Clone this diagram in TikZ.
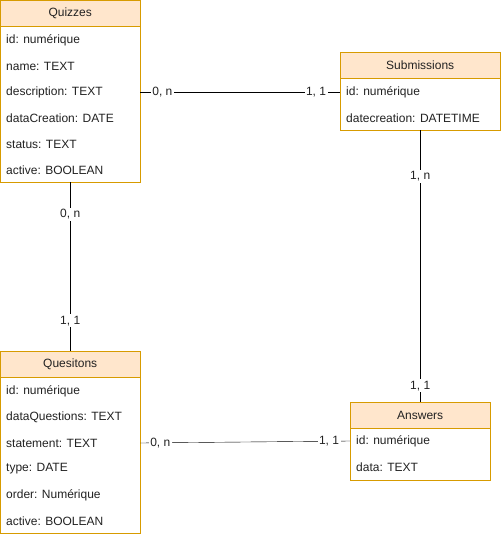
\documentclass[tikz,border=0pt]{standalone}
\usepackage{fontspec}
\setmainfont{Liberation Sans}
\definecolor{tabline}{HTML}{D79B00}
\definecolor{tabhead}{HTML}{FFE6CC}
\definecolor{txt}{HTML}{222222}

\begin{document}
\begin{tikzpicture}[x=1pt,y=-1pt,font=\fontsize{12}{14}\selectfont,text=txt]
	\useasboundingbox (0,0) rectangle (501,537);
	\tikzset{Head/.style = {draw=tabline, fill=tabhead, anchor=north west, minimum height=26pt, inner sep=0pt},
	Body/.style = {draw=tabline, fill=white, anchor=north west, inner sep=0pt},
	Row/.style = {anchor=west, inner sep=0pt},
	Card/.style = {fill=white, inner sep=1.5pt}}
	% Quizzes
	\node[Body, minimum width=140pt, minimum height=156pt] (quizB) at (0,26) {};
	\node[Head, minimum width=140pt] (quiz) at (0,0) {Quizzes};
	\foreach \t [count=\i] in {id: numérique, name: TEXT, description: TEXT, dataCreation: DATE, status: TEXT, active: BOOLEAN}
		\node[Row] (quiz\i) at (6,14+26*\i) {\t};
	% Submissions
	\node[Body, minimum width=160pt, minimum height=52pt] (subB) at (340,78) {};
	\node[Head, minimum width=160pt] (sub) at (340,52) {Submissions};
	\foreach \t [count=\i] in {id: numérique, datecreation: DATETIME}
		\node[Row] (sub\i) at (346,66+26*\i) {\t};
	% Quesitons
	\node[Body, minimum width=140pt, minimum height=156pt] (quesB) at (0,377) {};
	\node[Head, minimum width=140pt] (ques) at (0,351) {Quesitons};
	\foreach \t [count=\i] in {id: numérique, dataQuestions: TEXT, statement: TEXT, type: DATE, order: Numérique, active: BOOLEAN}
		\node[Row] (ques\i) at (6,365+26*\i) {\t};
	% Answers
	\node[Body, minimum width=140pt, minimum height=52pt] (ansB) at (350,428) {};
	\node[Head, minimum width=140pt] (ans) at (350,402) {Answers};
	\foreach \t [count=\i] in {id: numérique, data: TEXT}
		\node[Row] (ans\i) at (356,415+26*\i) {\t};
	% links
	\coordinate (qs) at (quizB.east |- quiz3);
	\coordinate (sq) at (subB.west |- quiz3);
	\coordinate (qa) at (quesB.east |- ques3);
	\coordinate (aq) at (ansB.west |- ans1);
	\draw (qs) -- node[Card, pos=0.11] {0, n} node[Card, pos=0.88] {1, 1} (sq);
	\draw (quizB.south) -- node[Card, pos=0.19] {0, n} node[Card, pos=0.82] {1, 1} (ques.north);
	\draw (subB.south) -- node[Card, pos=0.17] {1, n} node[Card, pos=0.94] {1, 1} (ans.north);
	\draw (qa) -- node[Card, pos=0.095] {0, n} node[Card, pos=0.9] {1, 1} (aq);
\end{tikzpicture}
\end{document}
